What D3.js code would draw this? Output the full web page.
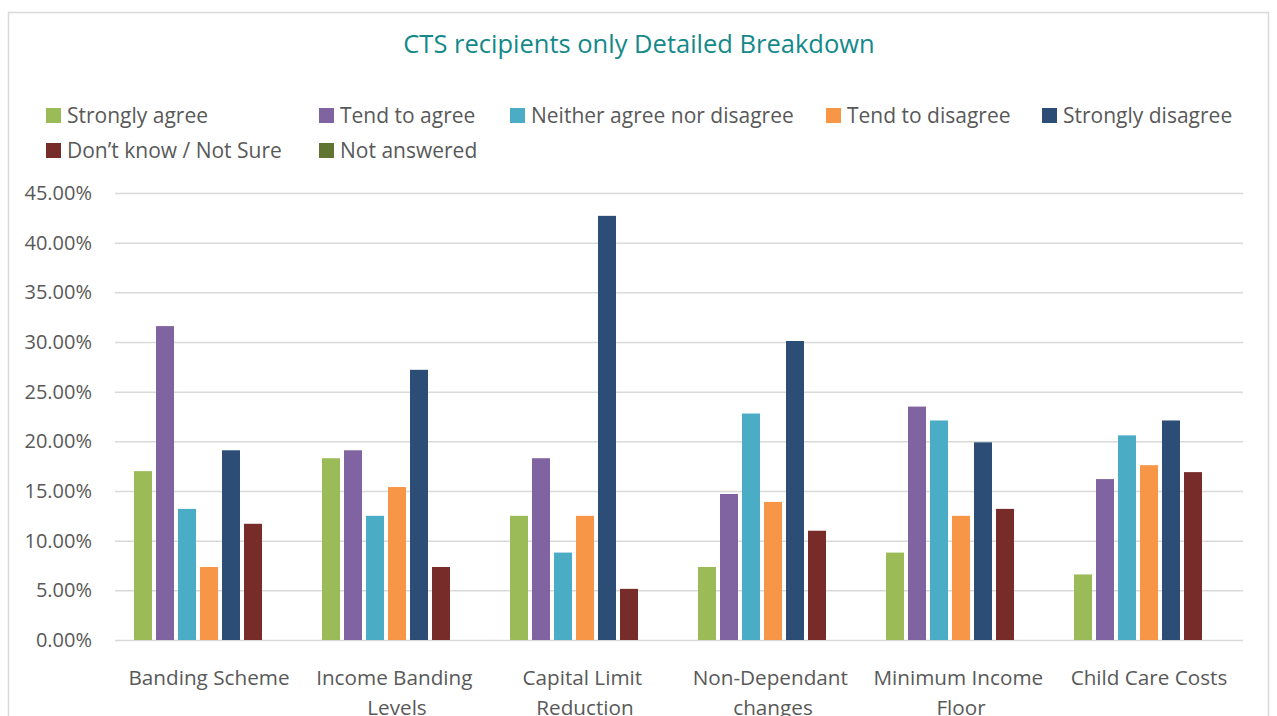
<!DOCTYPE html>
<html>
<head>
<meta charset="utf-8">
<script src="https://cdnjs.cloudflare.com/ajax/libs/d3/7.8.5/d3.min.js"></script>
<style>
  html, body { margin: 0; padding: 0; background: #fff; }
  svg { display: block; }
  text { font-family: "Open Sans", "Noto Sans", sans-serif; }
</style>
</head>
<body>
<svg id="chart" width="1277" height="716"></svg>
<script>
const title = "CTS recipients only Detailed Breakdown";
const categories = [
  ["Banding Scheme"],
  ["Income Banding", "Levels"],
  ["Capital Limit", "Reduction"],
  ["Non-Dependant", "changes"],
  ["Minimum Income", "Floor"],
  ["Child Care Costs"]
];
const seriesNames = ["Strongly agree", "Tend to agree", "Neither agree nor disagree", "Tend to disagree", "Strongly disagree", "Don\u2019t know / Not Sure", "Not answered"];
const seriesColors = ["#9BBB59", "#8064A2", "#4BACC6", "#F79646", "#2C4D75", "#772C2A", "#5F7530"];
const stronglyAgree    = [17.0, 18.3, 12.5, 7.35, 8.8, 6.6];
const tendToAgree      = [31.6, 19.1, 18.3, 14.7, 23.5, 16.2];
const neither          = [13.2, 12.5, 8.8, 22.8, 22.1, 20.6];
const tendToDisagree   = [7.35, 15.4, 12.5, 13.9, 12.5, 17.6];
const stronglyDisagree = [19.1, 27.2, 42.7, 30.1, 19.9, 22.1];
const dontKnow         = [11.7, 7.35, 5.15, 11.0, 13.2, 16.9];
const notAnswered      = [0, 0, 0, 0, 0, 0];
const seriesValues = [stronglyAgree, tendToAgree, neither, tendToDisagree, stronglyDisagree, dontKnow, notAnswered];
const yTicks = [0, 5, 10, 15, 20, 25, 30, 35, 40, 45];

const svg = d3.select("#chart");
const FONT = "'Open Sans', 'Noto Sans', sans-serif";

// chart border
svg.append("rect").attr("x", 8.5).attr("y", 12.5).attr("width", 1260).attr("height", 720)
  .attr("fill", "#fff").attr("stroke", "#D9D9D9").attr("stroke-width", 1.5);

// title
svg.append("text").attr("x", 639).attr("y", 53).attr("text-anchor", "middle")
  .attr("font-size", 25.5).attr("fill", "#14898A").text(title);

const pLeft = 115, pRight = 1243, pTop = 193, pBottom = 640;
const y = d3.scaleLinear().domain([0, 45]).range([pBottom, pTop]);
const x0 = d3.scaleBand().domain(d3.range(categories.length)).range([pLeft, pRight]).padding(0);
// step 22, bar 18 within band of 188
const pIn = 4 / 22;
const pOut = (x0.bandwidth() / 22 - seriesNames.length + pIn) / 2;
const x1 = d3.scaleBand().domain(d3.range(seriesNames.length)).range([0, x0.bandwidth()])
  .paddingInner(pIn).paddingOuter(pOut);

// gridlines + y labels
const yAxis = d3.axisLeft(y).tickValues(yTicks).tickSize(-(pRight - pLeft)).tickPadding(23)
  .tickFormat(d => d.toFixed(2) + "%");
const gy = svg.append("g").attr("transform", `translate(${pLeft},0)`).call(yAxis);
gy.select(".domain").remove();
gy.selectAll(".tick line").attr("stroke", "#D9D9D9").attr("stroke-width", 1.5);
gy.selectAll(".tick text").attr("fill", "#595959").attr("font-size", 20)
  .style("font-family", FONT);

// bars
const groups = svg.append("g").selectAll("g").data(categories).join("g")
  .attr("transform", (d, i) => `translate(${x0(i)},0)`);
groups.selectAll("rect").data((d, i) => seriesValues.map((s, j) => ({ j, v: s[i] })))
  .join("rect")
  .attr("x", d => x1(d.j)).attr("width", x1.bandwidth())
  .attr("y", d => y(d.v)).attr("height", d => y(0) - y(d.v))
  .attr("fill", d => seriesColors[d.j]);

// x labels (wrapped lines keep their trailing space, as the original wrapping does)
const xl = svg.append("g");
categories.forEach((lines, i) => {
  const cx = x0(i) + x0.bandwidth() / 2;
  lines.forEach((t, k) => {
    const s = (lines.length > 1 && k < lines.length - 1) ? t + " " : t;
    xl.append("text").attr("x", cx).attr("y", 685 + k * 30).attr("text-anchor", "middle")
      .style("white-space", "pre")
      .attr("font-size", 20.7).attr("fill", "#595959").text(s);
  });
});

// legend
const legendPos = [[46, 115.5], [319, 115.5], [510, 115.5], [826, 115.5], [1042, 115.5], [46, 150.5], [319, 150.5]];
const lg = svg.append("g");
seriesNames.forEach((n, i) => {
  const [lx, ly] = legendPos[i];
  lg.append("rect").attr("x", lx).attr("y", ly - 7.5).attr("width", 15).attr("height", 15).attr("fill", seriesColors[i]);
  lg.append("text").attr("x", lx + 21).attr("y", ly + 7.5).attr("font-size", 21).attr("fill", "#595959").text(n);
});
</script>
</body>
</html>
